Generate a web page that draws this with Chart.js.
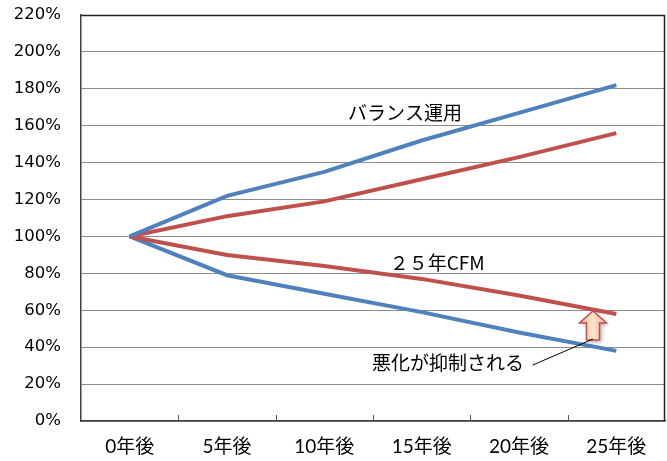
<!DOCTYPE html>
<html>
<head>
<meta charset="utf-8">
<script src="https://cdn.jsdelivr.net/npm/chart.js@4"></script>
<style>
  html, body { margin:0; padding:0; background:#fff; }
  #wrap { width:667px; height:461px; position:relative; }
</style>
</head>
<body>
<div id="wrap"><canvas id="chart"></canvas></div>
<script>
// categories and y ticks
const years = ["0年後","5年後","10年後","15年後","20年後","25年後"];
const yTicks = [0,20,40,60,80,100,120,140,160,180,200,220];

// values in % (start = 100%)
const balanceUp   = [100,122,135,152,167,182];
const cfmUp       = [100,111,119,131,143,156];
const cfmDown     = [100, 90, 84, 77, 68, 58];
const balanceDown = [100, 79, 69, 59, 48, 38];

const BLUE = "#4F81BD";
const RED  = "#C0504D";
const JP_FONT = "'Noto Sans CJK JP', sans-serif";

// labels and arrow, placed in data units (category index, %)
const notes = [
  {text:"バランス運用", x:2.83, y:167},
  {text:"２５年CFM",    x:3.16, y:86},
  {text:"悪化が抑制される", x:3.27, y:31.5}
];
const leader = {x1:4.14, y1:30.3, x2:4.76, y2:44.4};
const arrow = {x:4.76, top:59.6, bottom:43.9};

function line(label, data, color){
  return {
    label, data,
    borderColor: color,
    backgroundColor: color,
    borderWidth: 4,
    pointRadius: 0,
    tension: 0,
    fill: false
  };
}

const frame = {
  id: "frame",
  afterDraw(chart){
    const {ctx, chartArea:a, scales:{x}} = chart;
    ctx.save();
    // top / right border
    ctx.strokeStyle = "#222";
    ctx.lineWidth = 1.5;
    ctx.beginPath();
    ctx.moveTo(a.left, a.top + 0.5);
    ctx.lineTo(a.right - 0.5, a.top + 0.5);
    ctx.lineTo(a.right - 0.5, a.bottom);
    ctx.stroke();
    // inside tick marks between categories
    ctx.strokeStyle = "#555";
    ctx.lineWidth = 1;
    ctx.beginPath();
    for(let i=1;i<years.length;i++){
      const px = Math.round(x.getPixelForValue(i - 0.5)) + 0.5;
      ctx.moveTo(px, a.bottom);
      ctx.lineTo(px, a.bottom - 6);
    }
    ctx.stroke();
    ctx.restore();
  },
  afterDatasetsDraw(chart){
    const {ctx, scales:{x, y}} = chart;
    ctx.save();

    // block arrow
    const ax = x.getPixelForValue(arrow.x);
    const tip = y.getPixelForValue(arrow.top);
    const bot = y.getPixelForValue(arrow.bottom);
    const head = 12, hw = 13.5, sw = 6.5;
    ctx.beginPath();
    ctx.moveTo(ax, tip);
    ctx.lineTo(ax + hw, tip + head);
    ctx.lineTo(ax + sw, tip + head);
    ctx.lineTo(ax + sw, bot);
    ctx.lineTo(ax - sw, bot);
    ctx.lineTo(ax - sw, tip + head);
    ctx.lineTo(ax - hw, tip + head);
    ctx.closePath();
    const g = ctx.createLinearGradient(ax - hw, 0, ax + hw, 0);
    g.addColorStop(0, "#F7B487");
    g.addColorStop(0.5, "#FDE4D0");
    g.addColorStop(1, "#F7B487");
    ctx.shadowColor = "rgba(0,0,0,0.35)";
    ctx.shadowBlur = 4;
    ctx.shadowOffsetX = 2;
    ctx.shadowOffsetY = 2;
    ctx.fillStyle = g;
    ctx.fill();
    ctx.shadowColor = "transparent";
    ctx.strokeStyle = RED;
    ctx.lineWidth = 1.5;
    ctx.stroke();

    // leader line
    ctx.strokeStyle = "#000";
    ctx.lineWidth = 1;
    ctx.beginPath();
    ctx.moveTo(x.getPixelForValue(leader.x1), y.getPixelForValue(leader.y1));
    ctx.lineTo(x.getPixelForValue(leader.x2), y.getPixelForValue(leader.y2));
    ctx.stroke();

    // text labels
    ctx.fillStyle = "#000";
    ctx.font = "19px " + JP_FONT;
    ctx.textAlign = "center";
    ctx.textBaseline = "middle";
    notes.forEach(n => {
      ctx.fillText(n.text, x.getPixelForValue(n.x), y.getPixelForValue(n.y));
    });
    ctx.restore();
  }
};

new Chart(document.getElementById("chart"), {
  type: "line",
  data: {
    labels: years,
    datasets: [
      line("バランス運用(上)", balanceUp, BLUE),
      line("25年CFM(上)", cfmUp, RED),
      line("25年CFM(下)", cfmDown, RED),
      line("バランス運用(下)", balanceDown, BLUE)
    ]
  },
  options: {
    responsive: true,
    maintainAspectRatio: false,
    animation: false,
    layout: { padding: {top:15, right:2, left:0, bottom:0} },
    plugins: { legend:{display:false}, tooltip:{enabled:false} },
    scales: {
      x: {
        offset: true,
        grid: { display:false, drawTicks:false },
        border: { color:"#404040", width:1.5 },
        ticks: {
          color:"#000",
          padding: 14,
          maxRotation: 0,
          font: { size:19, family:"Lato, " + JP_FONT }
        },
        afterFit(scale){ scale.height = 40; scale.paddingLeft = 0; scale.paddingRight = 0; }
      },
      y: {
        min: 0,
        max: 220,
        afterBuildTicks(scale){ scale.ticks = yTicks.map(v => ({value:v})); },
        grid: { color:"#8c8c8c", lineWidth:1, drawTicks:false },
        border: { color:"#404040", width:1.5 },
        ticks: {
          color:"#000",
          padding: 20,
          font: { size:16.5, family:"'DejaVu Sans'" },
          callback: v => v + "%"
        },
        afterFit(scale){ scale.width = 81; scale.paddingTop = 0; scale.paddingBottom = 0; }
      }
    }
  },
  plugins: [frame]
});
</script>
</body>
</html>
